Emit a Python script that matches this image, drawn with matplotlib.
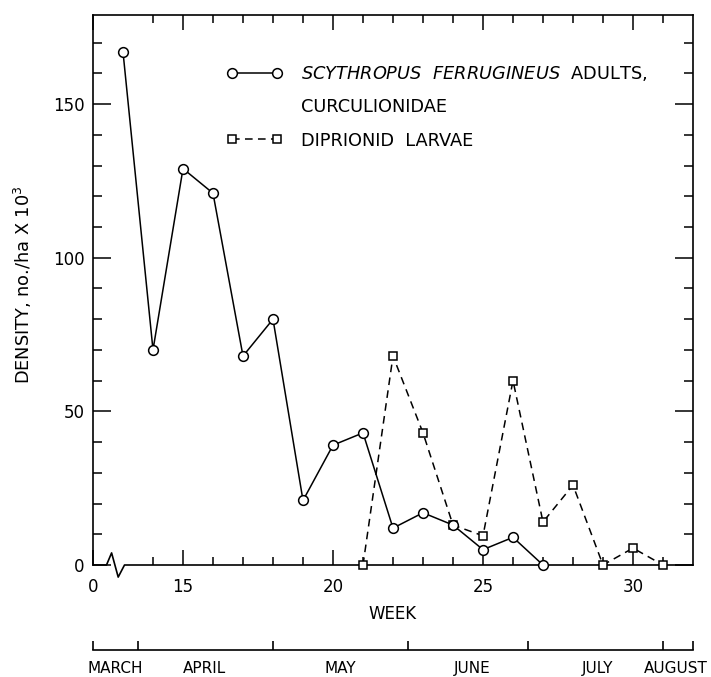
import matplotlib
matplotlib.use("Agg")
import matplotlib.pyplot as plt
import matplotlib.transforms as mtransforms
from matplotlib.lines import Line2D

# data
weeks_adults = [13, 14, 15, 16, 17, 18, 19, 20, 21, 22, 23, 24, 25, 26, 27]
adults = [167, 70, 129, 121, 68, 80, 21, 39, 43, 12, 17, 13, 5, 9, 0]
weeks_larvae = [21, 22, 23, 24, 25, 26, 27, 28, 29, 30, 31]
larvae = [0, 68, 43, 13, 9.5, 60, 14, 26, 0, 5.5, 0]

week_major = [12, 15, 20, 25, 30]
week_major_labels = ["0", "15", "20", "25", "30"]
week_minor = [w for w in range(14, 32) if w % 5 != 0]

month_edges = [12, 13.5, 18, 22.5, 26.5, 31, 32]
month_names = ["MARCH", "APRIL", "MAY", "JUNE", "JULY", "AUGUST"]
month_label_pos = [12.73, 15.73, 20.23, 24.63, 28.83, 31.43]

plt.rcParams['font.family'] = ['DejaVu Sans']
plt.rcParams['mathtext.fontset'] = 'dejavusans'
fs = 12
fs_leg = 12.8

fig = plt.figure(figsize=(7.11, 6.77), dpi=100)
W, H = 711, 677
ax = fig.add_axes([93 / W, 1 - 565 / H, 600 / W, 550 / H])

l1, = ax.plot(weeks_adults, adults, '-', color='black', lw=1.1,
              marker='o', ms=7, mfc='white', mec='black', mew=1.1,
              clip_on=False, zorder=4)
l2, = ax.plot(weeks_larvae, larvae, '--', color='black', lw=1.1,
              dashes=(5, 3.5), marker='s', ms=6, mfc='white', mec='black',
              mew=1.1, clip_on=False, zorder=3)

ax.set_xlim(12, 32)
ax.set_ylim(0, 179)

ax.set_xticks(week_major)
ax.set_xticklabels(week_major_labels)
ax.set_xticks(week_minor, minor=True)
ax.set_yticks([0, 50, 100, 150])
ax.set_yticks(range(10, 180, 10), minor=True)

ax.tick_params(axis='x', which='both', direction='in', top=True,
               bottom=True, width=1.1, labelsize=fs, pad=9)
ax.tick_params(axis='x', which='major', length=11)
ax.tick_params(axis='x', which='minor', length=6)
ax.tick_params(axis='y', which='both', direction='in', left=True,
               right=True, width=1.1, labelsize=fs, pad=6)
ax.tick_params(axis='y', which='major', length=13)
ax.tick_params(axis='y', which='minor', length=6.5)

for s in ['left', 'right', 'top']:
    ax.spines[s].set_linewidth(1.2)
ax.spines['bottom'].set_visible(False)

# baseline with axis break near the origin
trans = mtransforms.blended_transform_factory(ax.transData, ax.transAxes)
bx = [12, 12.45, 12.62, 12.84, 13.05, 32]
by = [0, 0, 0.022, -0.022, 0, 0]
ax.plot(bx, by, color='black', lw=1.2, transform=trans, clip_on=False,
        zorder=2)

ax.set_xlabel("WEEK", fontsize=fs)
ax.xaxis.set_label_coords(0.5, -0.072)
ax.set_ylabel(r"DENSITY, no./ha X 10$^3$", fontsize=fs_leg)
ax.yaxis.set_label_coords(-0.098, 0.51)

blank = Line2D([], [], linestyle='none')
ax.legend([l1, blank, l2],
          [r"$\mathit{SCYTHROPUS\ \ FERRUGINEUS}$  ADULTS,",
           "CURCULIONIDAE", "DIPRIONID  LARVAE"],
          loc='upper left', bbox_to_anchor=(0.222, 0.911), frameon=False,
          numpoints=2, handlelength=3.15, handletextpad=1.05,
          borderpad=0, borderaxespad=0, labelspacing=0.86, fontsize=fs_leg)

# month scale under the week axis
axm = fig.add_axes([93 / W, 1 - 650 / H, 600 / W, 0.01])
axm.set_xlim(12, 32)
axm.set_yticks([])
for s in ['left', 'right', 'top']:
    axm.spines[s].set_visible(False)
axm.spines['bottom'].set_linewidth(1.2)
axm.patch.set_visible(False)
axm.set_xticks(month_edges)
axm.set_xticklabels([])
axm.set_xticks(month_label_pos, minor=True)
axm.set_xticklabels(month_names, minor=True)
axm.tick_params(axis='x', which='major', direction='in', length=6.5,
                width=1.2)
axm.tick_params(axis='x', which='minor', length=0, labelsize=11, pad=8)

fig.savefig("out.png", dpi=100)
